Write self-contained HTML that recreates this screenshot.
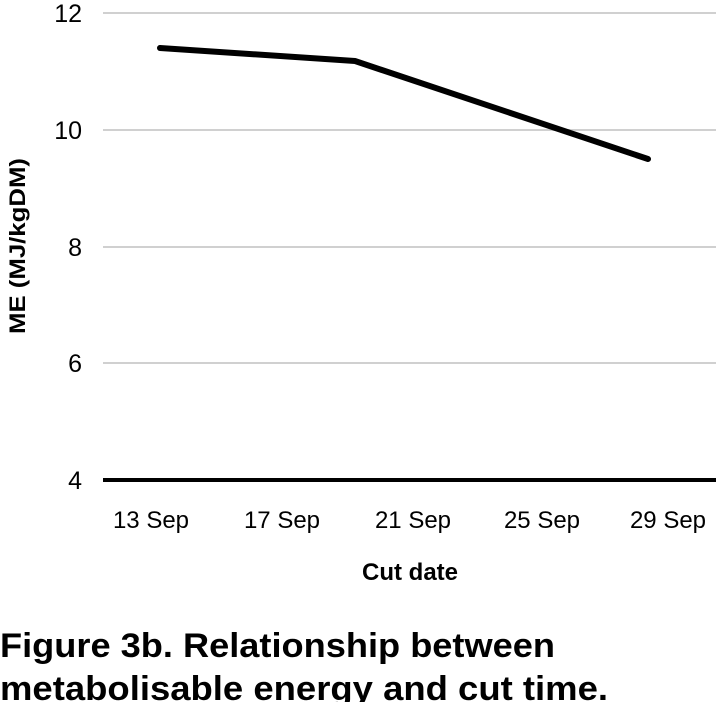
<!DOCTYPE html>
<html><head><style>html,body{margin:0;padding:0;background:#fff;overflow:hidden}</style></head>
<body>
<svg width="716" height="702" viewBox="0 0 716 702" xmlns="http://www.w3.org/2000/svg" font-family="Liberation Sans, sans-serif">
<g stroke="#d0d0d0" stroke-width="2">
<line x1="103" y1="13" x2="716" y2="13"/>
<line x1="103" y1="130" x2="716" y2="130"/>
<line x1="103" y1="247" x2="716" y2="247"/>
<line x1="103" y1="363" x2="716" y2="363"/>
</g>
<line x1="103" y1="480" x2="716" y2="480" stroke="#000" stroke-width="4"/>
<polyline points="160,48 355,61 648,159" fill="none" stroke="#000" stroke-width="6" stroke-linecap="round" stroke-linejoin="round"/>
<g font-size="25" text-anchor="end" fill="#000">
<text x="82" y="22">12</text>
<text x="82" y="139">10</text>
<text x="82" y="256">8</text>
<text x="82" y="372">6</text>
<text x="82" y="489">4</text>
</g>
<g font-size="24" text-anchor="middle" fill="#000">
<text x="151" y="528">13 Sep</text>
<text x="282" y="528">17 Sep</text>
<text x="413" y="528">21 Sep</text>
<text x="542" y="528">25 Sep</text>
<text x="668" y="528">29 Sep</text>
</g>
<text x="410" y="580" font-size="24" font-weight="bold" text-anchor="middle">Cut date</text>
<text transform="translate(25,246) rotate(-90)" font-size="22" font-weight="bold" text-anchor="middle" textLength="176" lengthAdjust="spacingAndGlyphs">ME (MJ/kgDM)</text>
<text x="0" y="657" font-size="34" font-weight="bold" textLength="555" lengthAdjust="spacingAndGlyphs">Figure 3b. Relationship between</text>
<text x="0" y="700" font-size="34" font-weight="bold" textLength="608" lengthAdjust="spacingAndGlyphs">metabolisable energy and cut time.</text>
</svg>
</body></html>
